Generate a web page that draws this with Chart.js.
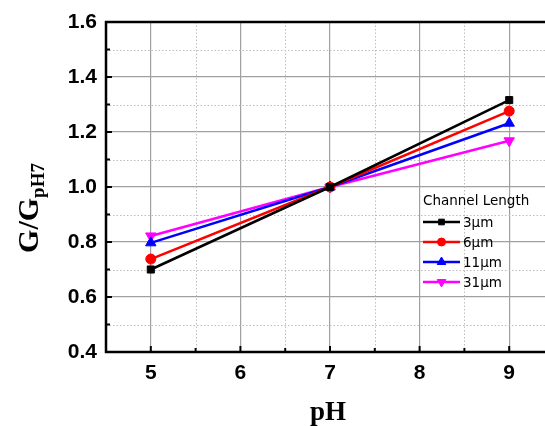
<!DOCTYPE html>
<html>
<head>
<meta charset="utf-8">
<script src="https://cdn.jsdelivr.net/npm/chart.js@4/dist/chart.umd.min.js"></script>
<style>
  html, body { margin: 0; padding: 0; background: #fff; overflow: hidden; }
  #wrap { width: 545px; height: 426px; overflow: hidden; position: relative; }
  canvas { display: block; }
</style>
</head>
<body>
<div id="wrap"><canvas id="chart" width="570" height="426"></canvas></div>
<script>
// pH values and normalized conductance G/G(pH7) for each channel length
const phValues = [5, 7, 9];
const len3um = [0.700, 1.000, 1.316];
const len6um = [0.738, 1.000, 1.276];
const len11um = [0.797, 1.000, 1.232];
const len31um = [0.822, 1.000, 1.168];

const seriesLabels = ['3\u03bcm', '6\u03bcm', '11\u03bcm', '31\u03bcm'];
const xMajorTicks = [5, 6, 7, 8, 9];
const xMinorTicks = [5.5, 6.5, 7.5, 8.5];
const yMinorTicks = [0.5, 0.7, 0.9, 1.1, 1.3, 1.5];

const toPoints = (ys) => phValues.map((x, i) => ({ x: x, y: ys[i] }));

function makeSet(label, values, color, style, rot, radius) {
    return {
        label: label,
        data: toPoints(values),
        borderColor: color,
        backgroundColor: color,
        borderWidth: 2.5,
        pointStyle: style,
        rotation: rot,
        pointRadius: radius,
        pointBorderWidth: 1,
        showLine: true,
        fill: false
    };
}

// draws minor grid, frame, inward ticks, axis titles and the inset legend
const decorations = {
    id: 'decorations',
    beforeDatasetsDraw(chart) {
        const { ctx, chartArea: a, scales: { x, y } } = chart;
        ctx.save();
        ctx.strokeStyle = '#bdbdbd';
        ctx.lineWidth = 1;
        ctx.setLineDash([1.5, 2]);
        xMinorTicks.forEach(v => {
            const px = Math.round(x.getPixelForValue(v)) + 0.5;
            ctx.beginPath(); ctx.moveTo(px, a.top); ctx.lineTo(px, a.bottom); ctx.stroke();
        });
        yMinorTicks.forEach(v => {
            const py = Math.round(y.getPixelForValue(v)) + 0.5;
            ctx.beginPath(); ctx.moveTo(a.left, py); ctx.lineTo(a.right, py); ctx.stroke();
        });
        ctx.restore();
    },
    afterDatasetsDraw(chart) {
        const { ctx, chartArea: a, scales: { x, y } } = chart;
        ctx.save();
        // inward tick marks
        ctx.strokeStyle = '#000';
        ctx.lineWidth = 2;
        xMajorTicks.concat(xMinorTicks).forEach(v => {
            const px = x.getPixelForValue(v);
            const len = Number.isInteger(v) ? 6 : 4;
            ctx.beginPath(); ctx.moveTo(px, a.bottom); ctx.lineTo(px, a.bottom - len); ctx.stroke();
        });
        y.ticks.map(t => t.value).concat(yMinorTicks).forEach(v => {
            const py = y.getPixelForValue(v);
            const len = yMinorTicks.includes(v) ? 4 : 6;
            ctx.beginPath(); ctx.moveTo(a.left, py); ctx.lineTo(a.left + len, py); ctx.stroke();
        });
        // frame
        ctx.lineWidth = 2.5;
        ctx.strokeRect(a.left, a.top, a.right - a.left, a.bottom - a.top);

        // x title
        ctx.fillStyle = '#000';
        ctx.font = 'bold 27px "Liberation Serif", "Times New Roman", serif';
        ctx.textAlign = 'center';
        ctx.textBaseline = 'alphabetic';
        ctx.fillText('pH', (a.left + a.right) / 2 - 2, 420);

        // y title with subscript
        ctx.translate(38, 208);
        ctx.rotate(-Math.PI / 2);
        const mainFont = 'bold 30px "Liberation Serif", "Times New Roman", serif';
        const subFont = 'bold 19px "Liberation Serif", "Times New Roman", serif';
        ctx.font = mainFont;
        const wMain = ctx.measureText('G/G').width;
        ctx.font = subFont;
        const wSub = ctx.measureText('pH7').width;
        const start = -(wMain + wSub) / 2;
        ctx.textAlign = 'left';
        ctx.font = mainFont;
        ctx.fillText('G/G', start, 0);
        ctx.font = subFont;
        ctx.fillText('pH7', start + wMain, 6);
        ctx.setTransform(1, 0, 0, 1, 0, 0);

        // inset legend
        const lx = 423, rows = [222, 242, 262, 282];
        ctx.font = '13.5px "DejaVu Sans", Tahoma, sans-serif';
        ctx.textAlign = 'left';
        ctx.textBaseline = 'middle';
        ctx.fillStyle = '#000';
        ctx.fillText('Channel Length', lx, 201);
        chart.data.datasets.forEach((ds, i) => {
            const ry = rows[i];
            ctx.strokeStyle = ds.borderColor;
            ctx.lineWidth = 2.5;
            ctx.beginPath(); ctx.moveTo(lx, ry); ctx.lineTo(lx + 37, ry); ctx.stroke();
            ctx.fillStyle = ds.backgroundColor;
            ctx.lineWidth = 1;
            Chart.helpers.drawPoint(ctx, {
                pointStyle: ds.pointStyle,
                rotation: ds.rotation,
                radius: ds.pointRadius - 1,
                borderWidth: 1
            }, lx + 18.5, ry);
            ctx.fillStyle = '#000';
            ctx.fillText(ds.label, lx + 40, ry + 1);
        });
        ctx.restore();
    }
};

const ctx = document.getElementById('chart').getContext('2d');
new Chart(ctx, {
    type: 'scatter',
    data: {
        datasets: [
            makeSet(seriesLabels[0], len3um, '#000000', 'rect', 0, 5),
            makeSet(seriesLabels[1], len6um, '#ff0000', 'circle', 0, 5),
            makeSet(seriesLabels[2], len11um, '#0000ff', 'triangle', 0, 6),
            makeSet(seriesLabels[3], len31um, '#ff00ff', 'triangle', 180, 6)
        ]
    },
    options: {
        responsive: false,
        animation: false,
        layout: { padding: { top: 22, right: 16, left: 0, bottom: 0 } },
        plugins: {
            legend: { display: false },
            tooltip: { enabled: false },
            title: { display: false }
        },
        scales: {
            x: {
                type: 'linear',
                min: 4.5,
                max: 9.5,
                afterFit: (s) => { s.height = 74; },
                afterBuildTicks: (s) => { s.ticks = xMajorTicks.map(v => ({ value: v })); },
                grid: { color: '#a0a0a0', lineWidth: 1.2, drawTicks: false },
                border: { display: false },
                ticks: {
                    padding: 9,
                    color: '#000',
                    font: { family: '"Liberation Sans", Arial, sans-serif', size: 21, weight: 'bold' }
                }
            },
            y: {
                type: 'linear',
                min: 0.4,
                max: 1.6,
                afterFit: (s) => { s.width = 106; },
                grid: { color: '#a0a0a0', lineWidth: 1.2, drawTicks: false },
                border: { display: false },
                ticks: {
                    stepSize: 0.2,
                    padding: 9,
                    color: '#000',
                    callback: (v) => v.toFixed(1),
                    font: { family: '"Liberation Sans", Arial, sans-serif', size: 21, weight: 'bold' }
                }
            }
        }
    },
    plugins: [decorations]
});
</script>
</body>
</html>
